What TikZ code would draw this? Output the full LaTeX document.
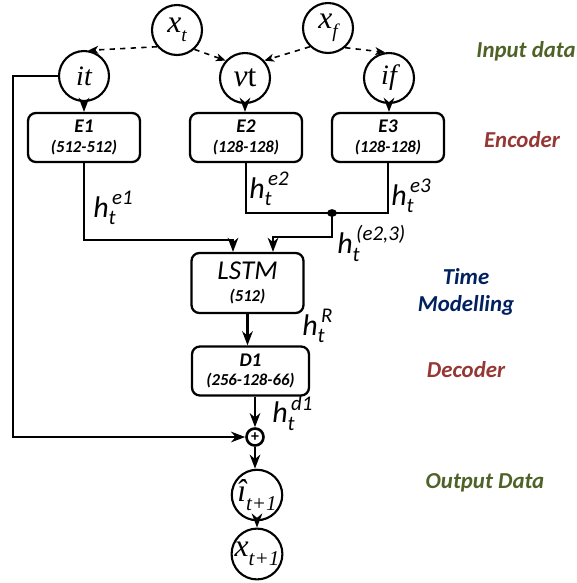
\documentclass[tikz,border=0pt]{standalone}
\usepackage{fontspec}
\usepackage{amsmath}
\setmainfont{Carlito}
\newfontfamily\tnr{Liberation Serif}
\usetikzlibrary{arrows.meta}
\definecolor{inpgreen}{HTML}{4F6228}
\definecolor{encred}{HTML}{953735}
\definecolor{timeblue}{HTML}{002060}
\tikzset{
    var/.style={circle, draw, line width=1.2pt, minimum size=1cm, inner sep=0pt, font=\tnr\itshape\fontsize{18}{18}\selectfont},
    block/.style={rectangle, rounded corners=4.5pt, draw, line width=1.3pt, minimum width=2.24cm, minimum height=0.98cm, align=center, inner sep=1pt},
    conn/.style={line width=1.3pt, -{Stealth[length=8pt, width=6pt, inset=2.5pt]}},
    feed/.style={dashed, line width=0.9pt, -{Stealth[length=5.5pt, width=4.5pt, inset=1.5pt]}},
    hlab/.style={anchor=west, inner sep=0pt, font=\fontsize{17}{17}\selectfont},
    stage/.style={font=\bfseries\itshape\fontsize{13}{15}\selectfont, align=center}
}
\newcommand{\lowsub}[2][11]{\raisebox{-0.3em}{\fontsize{#1}{#1}\selectfont #2}}
\newcommand{\hst}[1]{$\text{\itshape h}_{\text{\itshape t}}^{\,\text{\itshape #1}}$}
\newcommand{\blk}[2]{{\fontsize{11}{13}\selectfont\bfseries\itshape #1}\\[-1pt]{\fontsize{9.5}{11}\selectfont\bfseries\itshape #2}}

\begin{document}
\begin{tikzpicture}[x=0.02cm, y=-0.02cm]
        \useasboundingbox (0,0) rectangle (577,583);

        % Entradas
        \node[var] (xt) at (177,30) {x\lowsub{t}};
        \node[var] (xf) at (328,28) {x\lowsub{f}};
        \node[var] (it) at (84,76) {\fontsize{16}{16}\selectfont it};
        \node[var] (vt) at (245,78) {v\upshape t};
        \node[var] (if) at (389,78) {\fontsize{16}{16}\selectfont if};

        % Codificadores
        \node[block] (E1) at (84,137.5) {\blk{E1}{(512-512)}};
        \node[block] (E2) at (246,137.5) {\blk{E2}{(128-128)}};
        \node[block] (E3) at (388,137.5) {\blk{E3}{(128-128)}};

        % Modelo temporal y decodificador
        \node[block, minimum height=1.2cm] (LSTM) at (247.5,283)
            {{\fontsize{15.5}{16}\selectfont\itshape LSTM}\\[1pt]{\fontsize{9.5}{11}\selectfont\bfseries\itshape (512)}};
        \node[block, minimum width=2.34cm] (D1) at (250.5,371) {\blk{D1}{(256-128-66)}};

        % Suma y salidas
        \node[circle, draw, line width=1.5pt, minimum size=0.34cm, inner sep=0pt, font=\bfseries\fontsize{9}{9}\selectfont] (plus) at (255,437) {+};
        \node[var] (inext) at (257,495) {\^{\i}\lowsub[12]{t+1}};
        \node[var] (xnext) at (257,554) {x\lowsub[12]{t+1}};

        % Puntos de paso
        \coordinate (bA) at (233,240);
        \coordinate (jn) at (332,213);
        \coordinate (bB) at (273,237);
        \coordinate (lft) at (13,437);

        % Conexiones
        \draw[feed] (xt.220) -- (it.80);
        \draw[feed] (xt.312) -- (vt.138);
        \draw[feed] (xf.226) -- (vt.42);
        \draw[feed] (xf.311) -- (if.99);

        \draw[conn] (it) -- (E1);
        \draw[conn] (vt.south) -- (vt.south |- E2.north);
        \draw[conn] (if.south) -- (if.south |- E3.north);

        \draw[conn] (E1.south) |- (bA) -- (bA |- LSTM.north);
        \draw[line width=1.3pt] (E2.south) |- (jn) -| (E3.south);
        \fill (jn) ellipse (2.8pt and 2.2pt);
        \draw[conn] (jn) |- (bB) -- (bB |- LSTM.north);

        \draw[conn] (LSTM.south) -- (LSTM.south |- D1.north);
        \draw[conn] (plus |- D1.south) -- (plus);
        \draw[conn] (it.west) -| (lft) -- (plus);
        \draw[conn] (plus) -- (plus |- inext.north);
        \draw[conn] (inext) -- (xnext);

        % Etiquetas de estados ocultos
        \node[hlab] (he1) at (93,208) {\hst{e1}};
        \node[hlab] (he2) at (249,189) {\hst{e2}};
        \node[hlab] (he3) at (391,196) {\hst{e3}};
        \node[hlab] (he23) at (337,243) {\hst{(e2,3)}};
        \node[hlab] (hR) at (302,326) {\hst{R}};
        \node[hlab] (hd1) at (272,413) {\hst{d1}};

        % Etapas
        \node[stage, text=inpgreen] (lin) at (526,51) {Input data};
        \node[stage, text=encred] (lenc) at (522,140) {Encoder};
        \node[stage, text=timeblue] (ltm) at (466,292) {Time\\Modelling};
        \node[stage, text=encred] (ldec) at (466,370) {Decoder};
        \node[stage, text=inpgreen] (lout) at (485,483) {Output Data};
    \end{tikzpicture}
\end{document}
